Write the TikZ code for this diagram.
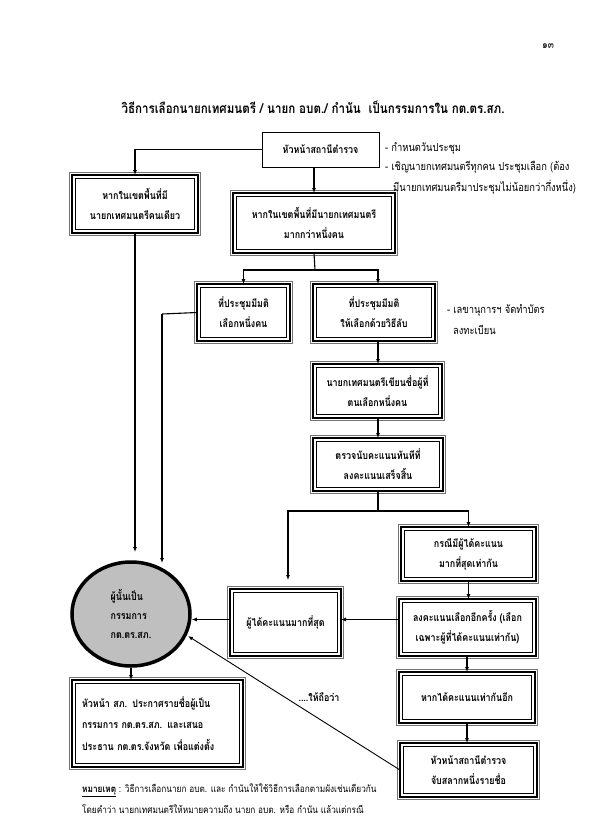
\documentclass[tikz,border=0pt]{standalone}
\usepackage{fontspec}
\newfontfamily\thai[Script=Thai,FakeStretch=0.85]{Loma}
\usetikzlibrary{arrows.meta,shapes.geometric}
\newcommand\DBox[7][]{\node[box,#1,minimum width={(#5-#3)*1pt},minimum height={(#6-#4)*1pt}] (#2) at ({(#3+#5)/2},{(#4+#6)/2}) {#7};}
\begin{document}
\begin{tikzpicture}[x=1pt,y=-1pt,
  box/.style={draw,line width=2.2pt,outer sep=0pt,inner sep=0pt,align=center,
    font=\thai\bfseries\fontsize{10.5}{20}\selectfont},
  plainbox/.style={draw,line width=0.8pt,outer sep=0pt,inner sep=0pt,align=center,
    font=\thai\bfseries\fontsize{10.5}{20}\selectfont},
  conn/.style={line width=1.1pt,-{Latex[length=5pt,width=4pt]}},
  link/.style={line width=1.1pt},
  sidetext/.style={anchor=west,inner sep=0pt,font=\thai\fontsize{11}{12}\selectfont},
  notetext/.style={anchor=west,inner sep=0pt,font=\thai\fontsize{9.7}{12}\selectfont},
]
\useasboundingbox (0,0) rectangle (596,839);
\fill[white] (0,0) rectangle (596,839);

% page number and title
\node[font=\thai\fontsize{10.5}{12}\selectfont] (pnum) at (548,46) {๑๓};
\node[font=\thai\bfseries\fontsize{13.6}{14}\selectfont] (title) at (313,107)
  {วิธีการเลือกนายกเทศมนตรี / นายก อบต./ กำนัน~~เป็นกรรมการใน กต.ตร.สภ.};

% top box
\node[plainbox,minimum width=117pt,minimum height=35pt] (top) at (320.5,149.5) {หัวหน้าสถานีตำรวจ};

% double-framed boxes
\DBox{b1}{72}{175}{198}{233}{หากในเขตพื้นที่มี\\นายกเทศมนตรีคนเดียว}
\DBox{b2}{233}{193}{395}{253}{หากในเขตพื้นที่มีนายกเทศมนตรี\\มากกว่าหนึ่งคน}
\DBox{b3}{197}{284}{290}{341}{ที่ประชุมมีมติ\\เลือกหนึ่งคน}
\DBox{b4}{313}{284}{435}{341}{ที่ประชุมมีมติ\\ให้เลือกด้วยวิธีลับ}
\DBox{b5}{313}{364}{442}{418}{นายกเทศมนตรีเขียนชื่อผู้ที่\\ตนเลือกหนึ่งคน}
\DBox{b6}{313}{438}{443}{491}{ตรวจนับคะแนนทันทีที่\\ลงคะแนนเสร็จสิ้น}
\DBox{b7}{401}{527}{536}{581}{กรณีมีผู้ได้คะแนน\\มากที่สุดเท่ากัน}
\DBox{b8}{230}{589}{341}{656}{ผู้ได้คะแนนมากที่สุด}
\DBox{b9}{399}{599}{536}{656}{ลงคะแนนเลือกอีกครั้ง (เลือก\\เฉพาะผู้ที่ได้คะแนนเท่ากัน)}
\DBox[align=left,text width=151pt,inner xsep=10pt,font=\thai\bfseries\fontsize{10.5}{21.5}\selectfont]{b10}{72}{680}{243}{767}{\mbox{หัวหน้า สภ. ประกาศรายชื่อผู้เป็น}\\\mbox{กรรมการ กต.ตร.สภ. และเสนอ}\\\mbox{ประธาน กต.ตร.จังหวัด เพื่อแต่งตั้ง}}
\DBox{b11}{399}{672}{535}{723}{หากได้คะแนนเท่ากันอีก}
\DBox{b12}{400}{743}{537}{797}{หัวหน้าสถานีตำรวจ\\จับสลากหนึ่งรายชื่อ}

\foreach \n in {b1,b2,b3,b4,b5,b6,b7,b8,b9,b10,b11,b12}{
  \draw[line width=0.6pt] ([shift={(3.6,3.6)}]\n.north west) rectangle ([shift={(-3.6,-3.6)}]\n.south east);
  \draw[line width=0.5pt,black!55] ([shift={(-2.6,-2.6)}]\n.north west) rectangle ([shift={(2.6,2.6)}]\n.south east);
}

% ellipse
\node[ellipse,draw,line width=3.5pt,fill=black!25,minimum width=118pt,minimum height=104pt,
  inner sep=0pt,align=left,font=\thai\bfseries\fontsize{10.5}{19}\selectfont] (circ) at (131,614)
  {ผู้นั้นเป็น\\กรรมการ\\กต.ตร.สภ.};

% side texts
\node[sidetext] (s1) at (385,148) {- กำหนดวันประชุม};
\node[sidetext] (s2) at (385,167) {- เชิญนายกเทศมนตรีทุกคน ประชุมเลือก (ต้อง};
\node[sidetext] (s3) at (393,187) {มีนายกเทศมนตรีมาประชุมไม่น้อยกว่ากึ่งหนึ่ง)};
\node[sidetext] (s4) at (447,310) {- เลขานุการฯ จัดทำบัตร};
\node[sidetext] (s5) at (453,330) {ลงทะเบียน};

% note
\node[notetext] (n1) at (82,790) {\underline{\bfseries หมายเหตุ} : วิธีการเลือกนายก อบต. และ กำนันให้ใช้วิธีการเลือกตามผังเช่นเดียวกัน};
\node[notetext] (n2) at (82,809) {โดยคำว่า นายกเทศมนตรีให้หมายความถึง นายก อบต. หรือ กำนัน แล้วแต่กรณี};

% coordinates
\coordinate (br1) at (315,270);
\coordinate (br2) at (378,511);
\coordinate (t8) at (288,580);
\coordinate (c1) at (135,552);
\coordinate (c2x) at (162,314);
\coordinate (c2) at (162,563);
\coordinate (cd) at (188,636);

% connectors
\draw[conn] (top.west) -| (b1.north);
\draw[conn] (b2.north |- top.south) -- (b2.north);
\draw[link] (b2.south) -- (br1);
\draw[conn] (br1) -| (b3.north);
\draw[conn] (br1) -| ([xshift=4pt]b4.north);
\draw[conn] ([xshift=4pt]b4.south) -- ([xshift=4pt]b4.south |- b5.north);
\draw[conn] (b6.north |- b5.south) -- (b6.north);
\draw[link] (b6.south) -- (br2);
\draw[conn] (br2) -| (t8);
\draw[conn] (br2) -| (b7.north);
\draw[conn] (b7.south) -- (b7.south |- b9.north);
\draw[conn] ([yshift=8pt]b9.west) -- ([yshift=8pt]b9.west -| b8.east);
\draw[conn] ([yshift=3pt]b8.west) -- ([yshift=3pt]b8.west -| circ.east);
\draw[conn] (b1.south) -- (c1);
\draw[link] (b3.west) -- (c2x);
\draw[conn] (c2x) -- (c2);
\draw[conn] (circ.south) -- (circ.south |- b10.north);
\draw[conn] (b9.south -| b11.north) -- (b11.north);
\draw[conn] (b11.south) -- (b11.south |- b12.north);
\draw[line width=0.9pt,-{Latex[length=5pt,width=4pt]}] (b12.west) -- (cd);
\node[font=\thai\bfseries\fontsize{10.5}{12}\selectfont,inner sep=0pt] (lbl) at (319,697) {....ให้ถือว่า};
\end{tikzpicture}
\end{document}
